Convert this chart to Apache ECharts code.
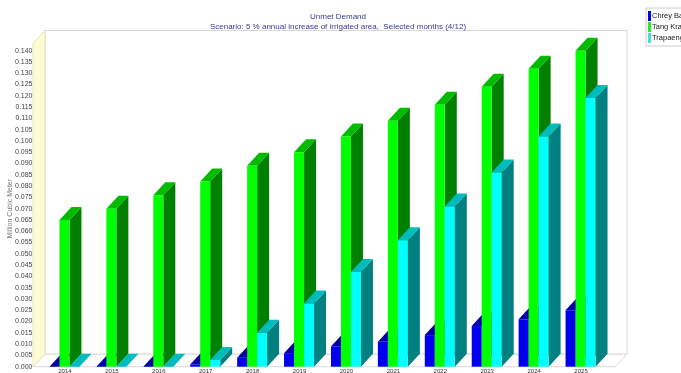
<!DOCTYPE html>
<html><head><meta charset="utf-8">
<script src="https://cdn.jsdelivr.net/npm/echarts@6/dist/echarts.min.js"></script>
<style>html,body{margin:0;padding:0;background:#fff;overflow:hidden}#c{width:681px;height:373px}</style>
</head><body><div id="c"></div>
<script>
// ---- data ----
const years = ['2014','2015','2016','2017','2018','2019','2020','2021','2022','2023','2024','2025'];
const chreyBak    = [0.000, 0.000, 0.000, 0.001, 0.004, 0.006, 0.009, 0.011, 0.014, 0.018, 0.021, 0.025];
const tangKrasang = [0.065, 0.070, 0.076, 0.082, 0.089, 0.095, 0.102, 0.109, 0.116, 0.124, 0.132, 0.140];
const trapaeng    = [0.000, 0.000, 0.000, 0.003, 0.015, 0.028, 0.042, 0.056, 0.071, 0.086, 0.102, 0.119];
const seriesNames = ['Chrey Bak', 'Tang Krasang', 'Trapaeng Thmor'];
const titleText = 'Unmet Demand';
const subTitleText = 'Scenario: 5 % annual increase of irrigated area,  Selected months (4/12)';
const yAxisName = 'Million Cubic Meter';

// ---- styling ----
const DX = 12, DY = -13;   // bar depth
const WX = 12, WY = -12.5; // wall depth
const BW = 10;
const FONT = '"Liberation Sans", Arial, sans-serif';

function makeBar(offset, front, top, side) {
  return function (params, api) {
    const xi = api.value(0), v = api.value(1);
    const p = api.coord([xi, v]);
    const b = api.coord([xi, 0]);
    const x0 = p[0] + offset, x1 = x0 + BW, yt = p[1], yb = b[1];
    return {
      type: 'group', children: [
        { type: 'polygon', shape: { points: [[x1, yb], [x1, yt], [x1 + DX, yt + DY], [x1 + DX, yb + DY]] }, style: { fill: side } },
        { type: 'polygon', shape: { points: [[x0, yt], [x0 + DX, yt + DY], [x1 + DX, yt + DY], [x1, yt]] }, style: { fill: top } },
        { type: 'rect', shape: { x: x0, y: yt, width: BW, height: Math.max(0, yb - yt) }, style: { fill: front } }
      ]
    };
  };
}

function renderWalls(params, api) {
  const cs = params.coordSys;
  const yb = api.coord([0, 0])[1];
  const yTop = cs.y - 7.7;
  const xl = cs.x - 8.5, xr = cs.x + cs.width + 10.5;
  const line = { stroke: '#d8d8d8', lineWidth: 1 };
  return {
    type: 'group', children: [
      { type: 'rect', shape: { x: xl + WX, y: yTop + WY, width: xr - xl, height: yb - yTop }, style: Object.assign({ fill: '#ffffff' }, line) },
      { type: 'polygon', shape: { points: [[xl, yb], [xr, yb], [xr + WX, yb + WY], [xl + WX, yb + WY]] }, style: Object.assign({ fill: '#ffffff' }, line) },
      { type: 'polygon', shape: { points: [[xl, yb], [xl, yTop], [xl + WX, yTop + WY], [xl + WX, yb + WY]] }, style: { fill: '#fdfbd2', stroke: '#e8e6c0', lineWidth: 1 } }
    ]
  };
}

const toData = arr => arr.map((v, i) => [i, v]);

const chart = echarts.init(document.getElementById('c'), null, { renderer: 'canvas' });
chart.setOption({
  animation: false,
  backgroundColor: '#ffffff',
  title: [
    { text: titleText, left: 333, top: 8, textAlign: 'center', textStyle: { fontSize: 8, fontWeight: 'normal', color: '#3a3a9a', fontFamily: FONT } },
    { text: subTitleText, left: 333, top: 18, textAlign: 'center', textStyle: { fontSize: 8, fontWeight: 'normal', color: '#3a3a9a', fontFamily: FONT } }
  ],
  legend: {
    data: seriesNames,
    orient: 'vertical',
    left: 646, top: 8,
    itemWidth: 3, itemHeight: 10, itemGap: 1,
    icon: 'rect',
    padding: [3, 40, 3, 2],
    borderColor: '#cccccc', borderWidth: 1,
    textStyle: { fontSize: 7.5, color: '#222', fontFamily: FONT, padding: [0, 0, 0, -4] }
  },
  grid: { left: 41.5, right: 76.5, top: 50.7, bottom: 6.3, containLabel: false, outerBoundsMode: 'none' },
  xAxis: {
    type: 'category', data: years,
    axisLine: { show: false }, axisTick: { show: false },
    axisLabel: { fontSize: 6, color: '#333', margin: 2, fontFamily: FONT, interval: 0 }
  },
  yAxis: {
    type: 'value', min: 0, max: 0.140, interval: 0.005,
    name: yAxisName, nameLocation: 'middle', nameGap: 28, nameMoveOverlap: false,
    nameTextStyle: { fontSize: 7, color: '#777', fontFamily: FONT },
    axisLine: { show: false }, axisTick: { show: false }, splitLine: { show: false },
    axisLabel: { fontSize: 7, color: '#444', margin: 9, fontFamily: FONT, formatter: v => v.toFixed(3) }
  },
  series: [
    { type: 'custom', name: 'walls', renderItem: renderWalls, data: [[0, 0]], z: 0, silent: true, clip: false },
    { type: 'custom', name: seriesNames[0], renderItem: makeBar(-15.5, '#0000ee', '#0000a8', '#00009a'), data: toData(chreyBak), itemStyle: { color: '#0000ee' }, z: 2 },
    { type: 'custom', name: seriesNames[1], renderItem: makeBar(-5.5, '#00ff00', '#00bb00', '#008000'), data: toData(tangKrasang), itemStyle: { color: '#22ee22' }, z: 3 },
    { type: 'custom', name: seriesNames[2], renderItem: makeBar(4.5, '#00ffff', '#00bcbc', '#008080'), data: toData(trapaeng), itemStyle: { color: '#44dddd' }, z: 4 }
  ]
});
</script>
</body></html>
